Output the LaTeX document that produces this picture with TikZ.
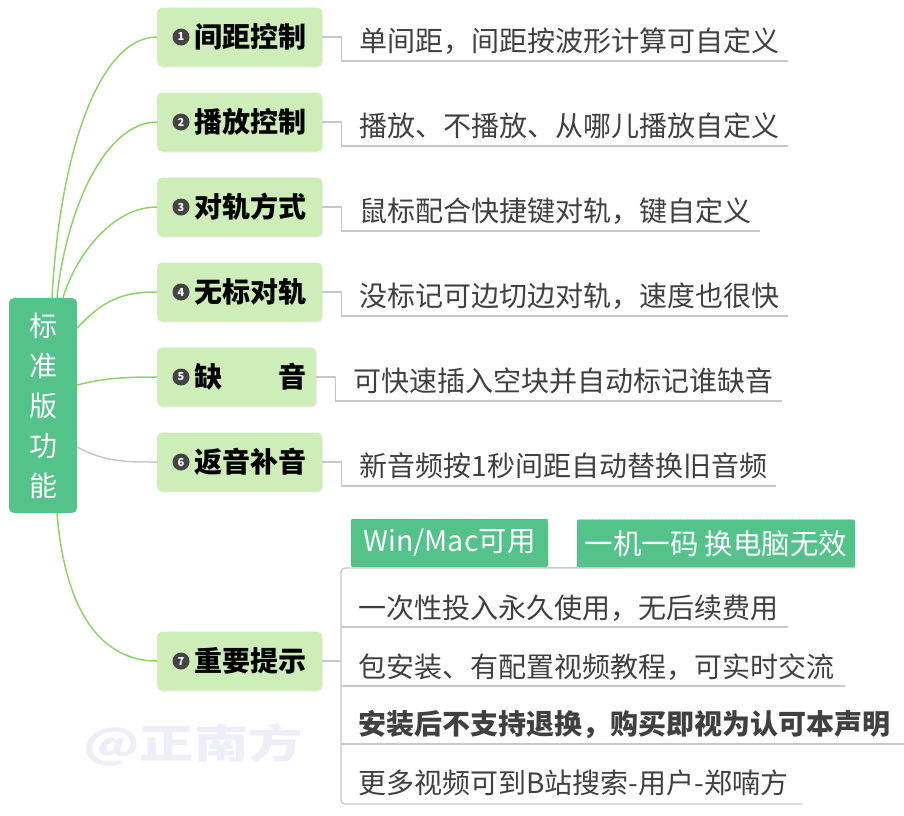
\documentclass[tikz,border=0pt]{standalone}
\usepackage{fontspec}
\setmainfont{Noto Sans CJK SC}
\usetikzlibrary{positioning,shadows}
\definecolor{rootgreen}{RGB}{83,195,139}
\definecolor{boxgreen}{RGB}{205,238,184}
\definecolor{linkgreen}{RGB}{143,212,104}
\definecolor{linkgray}{RGB}{200,200,200}
\definecolor{textgray}{RGB}{64,64,64}
\definecolor{dotgray}{RGB}{68,68,68}
\definecolor{marklav}{RGB}{238,238,248}

\begin{document}
\begin{tikzpicture}[x=1pt, y=-1pt,
  rootbox/.style={fill=rootgreen, rounded corners=5pt, minimum width=68pt, minimum height=215pt,
    inner sep=0pt, text=white, align=center, font=\fontsize{28}{40}\selectfont},
  topicbox/.style={fill=boxgreen, rounded corners=5pt, minimum height=59pt, inner sep=0pt, anchor=west,
    drop shadow={shadow xshift=0.8pt, shadow yshift=-1.2pt, opacity=0.12}},
  numdot/.style={circle, fill=dotgray, text=white, minimum size=17pt, inner sep=0pt,
    font=\fontsize{11}{11}\selectfont\bfseries},
  topictext/.style={inner sep=0pt, font=\fontsize{28}{30}\selectfont\bfseries},
  leaftext/.style={anchor=west, inner sep=0pt, text=textgray, font=\fontsize{28}{30}\selectfont},
  tagbox/.style={fill=rootgreen, draw=rootgreen!75!black, densely dotted, rounded corners=2pt,
    minimum height=48pt, inner sep=0pt, text=white, font=\fontsize{28.5}{30}\selectfont},
  branch/.style={linkgreen, line width=1.5pt},
  leafline/.style={linkgray, line width=1.3pt}]
  \useasboundingbox (0,0) rectangle (904,815);
  % Watermark behind everything
  \node[text=marklav, xscale=1.36, font=\fontsize{40}{40}\selectfont\bfseries] (mark) at (193,745) {@正南方};
  % Root topic
  \node[rootbox] (root) at (43,405.5) {标\\准\\版\\功\\能};
  % Main topics 1..6, each with one note under a grey elbow line
  \foreach \i/\yc/\w/\title/\leaf/\xend in {
      1/37/165/间距控制/单间距，间距按波形计算可自定义/788,
      2/122/165/播放控制/播放、不播放、从哪儿播放自定义/788,
      3/207/165/对轨方式/鼠标配合快捷键对轨，键自定义/760,
      4/292/165/无标对轨/没标记可边切边对轨，速度也很快/788,
      5/377/159/缺　　音/可快速插入空块并自动标记谁缺音/782,
      6/462/165/返音补音/新音频按1秒间距自动替换旧音频/776} {
    \node[topicbox, minimum width=\w pt] (t\i) at (157,\yc) {};
    \node[numdot] (n\i) at ([xshift=24pt]t\i.west) {\i};
    \node[topictext, anchor=west, right=5pt of n\i] (tt\i) {\title};
    \node[leaftext] (l\i) at ([shift={(37,4)}]t\i.east) {\leaf};
    \coordinate (e\i) at (\xend,\yc+24);
    \draw[leafline] (t\i.east) -- ++(19,0) |- (e\i);
  }
  % Topic 7 with tags and four notes
  \node[topicbox, minimum width=165pt] (t7) at (157,661) {};
  \node[numdot] (n7) at ([xshift=24pt]t7.west) {7};
  \node[topictext, anchor=west, right=5pt of n7] (tt7) {重要提示};
  \node[tagbox, minimum width=197pt] (tag1) at (449.5,543) {Win/Mac可用};
  \node[tagbox, minimum width=278pt] (tag2) at (716,543.5) {一机一码 换电脑无效};
  \coordinate (f1) at (341,568);
  \coordinate (f2) at (341,804);
  \draw[leafline] (t7.east) -- (f1 |- t7.east);
  \draw[leafline, rounded corners=4pt] (tag2.south east) -- (f1) -- (f2) -- (802,804);
  \foreach \j/\ly/\leaf/\xend in {
      1/608/一次性投入永久使用，无后续费用/788,
      2/667/包安装、有配置视频教程，可实时交流/845,
      3/725/{\bfseries 安装后不支持退换，购买即视为认可本声明}/904} {
    \node[leaftext] (m\j) at (358,\ly) {\leaf};
    \draw[leafline] (341,\ly+19) -- (\xend,\ly+19);
  }
  \node[leaftext] (m4) at (358,783) {更多视频可到B站搜索-用户-郑喃方};
  % Curved links from the root
  \draw[branch] ([xshift=9pt]root.north) .. controls (60,150) and (100,37) .. (t1.west);
  \draw[branch] ([xshift=14pt]root.north) .. controls (66,210) and (105,122) .. (t2.west);
  \draw[branch] ([xshift=20pt]root.north) .. controls (74,260) and (110,207) .. (t3.west);
  \draw[branch] ([yshift=77.5pt]root.east) .. controls (105,298) and (125,292) .. (t4.west);
  \draw[branch] ([yshift=20.5pt]root.east) .. controls (105,378) and (125,377) .. (t5.west);
  \draw[leafline, line width=1.5pt] ([yshift=-41.5pt]root.east) .. controls (105,462) and (125,462) .. (t6.west);
  \draw[branch] ([xshift=14pt]root.south) .. controls (65,610) and (100,661) .. (t7.west);
\end{tikzpicture}
\end{document}
